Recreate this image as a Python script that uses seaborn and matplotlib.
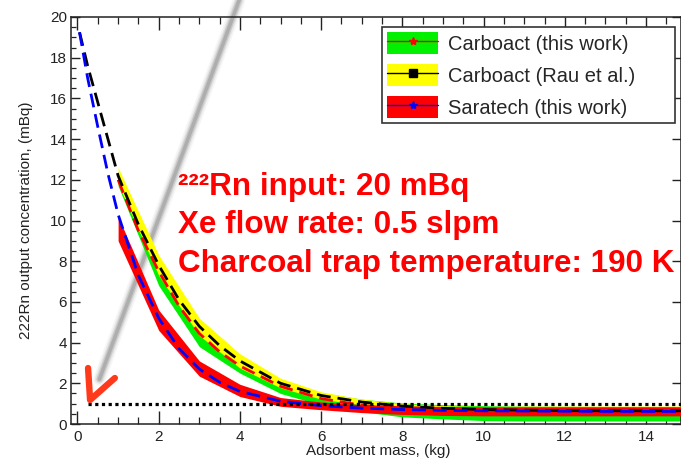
import matplotlib
matplotlib.use("Agg")
import matplotlib.pyplot as plt
import seaborn as sns
import numpy as np
import pandas as pd
from matplotlib.patches import Patch
from matplotlib.lines import Line2D

# ---------------- data ----------------
# fitted curves (dashed lines)
x_fit = [0.05, 0.25, 0.5, 0.75, 1, 1.5, 2, 2.5, 3, 3.5, 4, 5, 6, 7, 8, 9, 10, 11, 12, 13, 14, 15]
rau_fit = [19.25, 17.6, 15.8, 14.0, 12.2, 9.8, 7.8, 6.1, 4.8, 3.85, 3.1, 2.0, 1.4, 1.08, 0.88,
           0.77, 0.71, 0.68, 0.66, 0.65, 0.65, 0.65]
sara_fit = [19.25, 17.0, 14.6, 12.3, 10.3, 7.3, 5.2, 3.7, 2.7, 2.05, 1.6, 1.12, 0.9, 0.78, 0.71,
            0.67, 0.65, 0.64, 0.63, 0.62, 0.62, 0.62]
x_carbo_fit = [1, 1.5, 2, 2.5, 3, 3.5, 4, 5, 6, 7, 8, 9, 10, 11, 12, 13, 14, 15]
carbo_fit = [12.0, 9.5, 7.5, 5.8, 4.45, 3.55, 2.85, 1.85, 1.25, 0.92, 0.72, 0.6, 0.55, 0.52,
             0.5, 0.5, 0.5, 0.5]

# uncertainty bands
x_band = [1, 2, 3, 4, 5, 6, 7, 8, 9, 10, 11, 12, 13, 14, 15]
carbo_lo = [11.7, 6.8, 3.8, 2.5, 1.5, 0.93, 0.6, 0.35, 0.25, 0.17, 0.15, 0.15, 0.15, 0.15, 0.15]
carbo_hi = [12.4, 8.1, 4.9, 3.2, 2.15, 1.55, 1.22, 1.03, 0.95, 0.9, 0.88, 0.87, 0.86, 0.86, 0.86]
rau_lo = [11.8, 7.3, 4.35, 2.75, 1.78, 1.22, 0.94, 0.78, 0.7, 0.65, 0.63, 0.62, 0.62, 0.62, 0.62]
rau_hi = [12.6, 8.3, 5.2, 3.45, 2.25, 1.58, 1.22, 1.0, 0.9, 0.86, 0.88, 0.88, 0.88, 0.88, 0.88]
sara_lo = [9.0, 4.6, 2.35, 1.35, 0.87, 0.7, 0.56, 0.47, 0.42, 0.4, 0.4, 0.4, 0.4, 0.4, 0.4]
sara_hi = [10.2, 5.6, 3.1, 1.95, 1.3, 1.08, 0.95, 0.9, 0.86, 0.85, 0.85, 0.85, 0.85, 0.85, 0.85]

limit_level = 1.0
x_limit = [0.26, 15]

labels = ["Carboact (this work)", "Carboact (Rau et al.)", "Saratech (this work)"]
notes = ["\u00b2\u00b2\u00b2Rn input: 20 mBq", "Xe flow rate: 0.5 slpm",
         "Charcoal trap temperature: 190 K"]
x_ticks = [0, 2, 4, 6, 8, 10, 12, 14]
y_ticks = [0, 2, 4, 6, 8, 10, 12, 14, 16, 18, 20]

# ---------------- style ----------------
sns.set_style("ticks")
plt.rcParams["font.family"] = ["Liberation Sans", "DejaVu Sans"]

W, H = 681, 462
fig = plt.figure(figsize=(W / 100, H / 100), dpi=100)
ax = fig.add_axes([71 / W, 1 - 424 / H, 610 / W, 407 / H])

GREEN, YELLOW, RED, BLUE = "#00f000", "#ffff00", "#ff0000", "#0000ff"

# gray pointer line (blurred look)
gx = [0.54, 3.98]
gy = [2.2, 20.83]
for lw, a in [(9, 0.08), (6.5, 0.15), (4.5, 0.3), (2.5, 0.45)]:
    ax.plot(gx, gy, color="#8c8c8c", lw=lw, alpha=a, solid_capstyle="round",
            clip_on=False, zorder=1)

# bands
ax.fill_between(x_band, carbo_lo, carbo_hi, color=GREEN, lw=0, zorder=2)
ax.fill_between(x_band, rau_lo, rau_hi, color=YELLOW, lw=0, zorder=3)
ax.fill_between(x_band, sara_lo, sara_hi, color=RED, lw=0, zorder=4)

# dashed fit lines via seaborn
df_rau = pd.DataFrame({"x": x_fit, "y": rau_fit})
df_sara = pd.DataFrame({"x": x_fit, "y": sara_fit})
df_carbo = pd.DataFrame({"x": x_carbo_fit, "y": carbo_fit})

sns.lineplot(data=df_carbo, x="x", y="y", ax=ax, color=RED, lw=2.0, zorder=5)
ax.lines[-1].set_dashes([5, 2.5])
ax.lines[-1].set_dash_capstyle("butt")
sns.lineplot(data=df_rau, x="x", y="y", ax=ax, color="black", lw=2.0, zorder=6)
ax.lines[-1].set_dashes([5, 2.5])
sns.lineplot(data=df_sara, x="x", y="y", ax=ax, color=BLUE, lw=2.0, zorder=6)
ax.lines[-1].set_dashes([5, 2.5])

# dotted limit line
sns.lineplot(x=x_limit, y=[limit_level, limit_level], ax=ax, color="black", lw=2.3, zorder=7)
ax.lines[-1].set_dashes([1, 1.1])

# red check mark
ax.plot([0.26, 0.31, 0.92], [2.75, 1.18, 2.26], color="#ff3a1a", lw=4.6,
        solid_capstyle="round", solid_joinstyle="round", clip_on=False, zorder=8)

# axes
ax.set_xlim(-0.16, 14.86)
ax.set_ylim(0, 20)
ax.set_xticks(x_ticks)
ax.set_yticks(y_ticks)
ax.set_xticks(np.arange(0, 15, 0.5), minor=True)
ax.set_yticks(np.arange(0, 20.01, 0.5), minor=True)
ax.tick_params(axis="both", which="both", direction="in", colors="#222222",
               labelcolor="#222222", labelsize=11)
ax.tick_params(axis="x", which="major", length=9.5, width=1, top=True, pad=4)
ax.tick_params(axis="x", which="minor", length=5, width=0.9, top=True)
ax.tick_params(axis="y", which="major", length=6.5, width=1, right=True, pad=3)
ax.tick_params(axis="y", which="minor", length=3.6, width=0.9, right=False)
for s in ax.spines.values():
    s.set_linewidth(1.1)
    s.set_color("#222222")

ax.set_xlabel("Adsorbent mass, (kg)", fontsize=11, color="#222222")
ax.set_ylabel("222Rn output concentration, (mBq)", fontsize=11, color="#222222")
ax.xaxis.set_label_coords(0.503, -0.05)
ax.yaxis.set_label_coords(-0.062, 0.5)

# legend
handles = [
    (Patch(facecolor=GREEN, edgecolor="none"),
     Line2D([], [], color=RED, lw=1, marker="*", ms=6, mec=RED)),
    (Patch(facecolor=YELLOW, edgecolor="none"),
     Line2D([], [], color="black", lw=1, marker="s", ms=5.5)),
    (Patch(facecolor=RED, edgecolor="none"),
     Line2D([], [], color=BLUE, lw=1, marker="*", ms=6, mec=BLUE)),
]
leg = ax.legend(handles, labels, loc="upper left",
                bbox_to_anchor=(382 / W, 1 - 133 / H, 293 / W, 106 / H),
                bbox_transform=fig.transFigure, mode="expand",
                fontsize=14.5, frameon=True, fancybox=False, framealpha=1,
                borderpad=0.25, labelspacing=0.5, handlelength=2.55,
                handleheight=1.3, handletextpad=0.5, borderaxespad=0)
leg.get_frame().set_edgecolor("#333333")
leg.get_frame().set_linewidth(1.2)
leg.set_zorder(10)

# red annotation text
for txt, base in zip(notes, [195, 233, 272]):
    fig.text(178 / W, 1 - base / H, txt, color="#ff0000", fontsize=22.6,
             fontweight="bold", va="baseline", ha="left", zorder=11)

fig.savefig("out.png", dpi=100)
